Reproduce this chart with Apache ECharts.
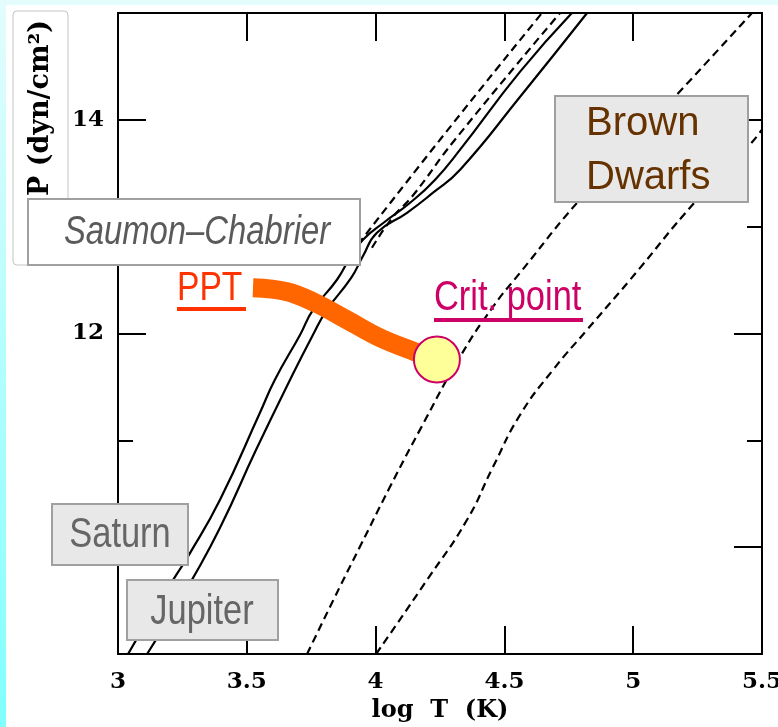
<!DOCTYPE html>
<html><head><meta charset="utf-8">
<script src="https://cdn.jsdelivr.net/npm/echarts@6/dist/echarts.min.js"></script>
<style>html,body{margin:0;padding:0;background:#fff}#c{width:778px;height:727px}</style>
</head><body><div id="c"></div>
<script>
// axis ticks / labels
const xTicks = [3, 3.5, 4, 4.5, 5, 5.5];
const yMajorTicks = [10, 12, 14];
const yMinorTicks = [11, 13];
const yLabels = [10, 12, 14];

// Saturn interior profile (solid)
const saturnT = [3.039,3.124,3.214,3.280,3.396,3.551,3.609,3.707,3.757,3.850,3.901,3.951,4.036,4.134,4.231,4.328,4.561,4.762];
const saturnP = [9.0,9.347,9.694,9.947,10.443,11.258,11.567,11.989,12.222,12.503,12.709,12.878,13.046,13.224,13.440,13.721,14.451,15.0];
// Jupiter interior profile (solid)
const jupiterT = [3.113,3.202,3.287,3.396,3.536,3.668,3.757,3.811,3.905,3.950,4.005,4.122,4.223,4.328,4.561,4.821];
const jupiterP = [9.0,9.347,9.694,10.181,10.911,11.567,11.989,12.222,12.520,12.720,12.943,13.130,13.318,13.533,14.216,15.0];
// upper dashed profiles
const dash1T = [3.901,4.250,4.646];
const dash1P = [12.737,13.814,15.0];
const dash2T = [3.986,4.068,4.141,4.308,4.716];
const dash2P = [12.803,13.093,13.280,13.814,15.0];
// brown dwarf profiles (dashed)
const bd1T = [3.734,3.842,3.939,4.056,4.172,4.328,4.456,4.561,4.793,5.170,5.461];
const bd1P = [9.0,9.535,10.003,10.565,11.098,11.782,12.251,12.569,13.253,14.236,15.0];
const bd2T = [4.002,4.200,4.355,4.456,4.561,4.689,4.821,4.988,5.248,5.446,5.500];
const bd2P = [9.0,9.694,10.256,10.752,11.239,11.660,12.035,12.503,13.253,13.749,13.908];
// PPT line and critical point
const pptT = [3.524,3.656,3.765,3.889,4.017,4.153,4.238];
const pptP = [12.428,12.391,12.288,12.128,11.960,11.829,11.754];
const critT = [4.238];
const critP = [11.757];

const zip = (a, b) => a.map((v, i) => [v, b[i]]);
const chart = echarts.init(document.getElementById('c'), null, {renderer: 'canvas'});

const serif = "'DejaVu Serif', serif";
const axisFont = {fontFamily: serif, fontWeight: 'bold', fontSize: 23, color: '#000'};
const lineStyleAxis = {color: '#000', width: 2};
const sans = "'Liberation Sans', Arial, sans-serif";
const NX = 0.82; // horizontal condensing of label text

function yAx(pos, ticks, len, labels, showLine) {
  return {
    type: 'value', position: pos, min: 9, max: 15, interval: 1,
    axisLine: {show: showLine, lineStyle: lineStyleAxis},
    axisTick: {show: true, inside: true, length: len, lineStyle: {color: '#000', width: 2}, customValues: ticks},
    axisLabel: labels ? Object.assign({show: true, margin: 14, customValues: labels}, axisFont) : {show: false},
    splitLine: {show: false}
  };
}

const lineSeries = (T, P, dashed) => ({
  type: 'line', data: zip(T, P), showSymbol: false, smooth: 0.5,
  lineStyle: {color: '#000', width: 2.2, type: dashed ? [8, 5] : 'solid'},
  z: 2, silent: true
});

const option = {
  animation: false,
  backgroundColor: '#fff',
  grid: {left: 118, right: 16, top: 13, bottom: 73, containLabel: false, outerBoundsMode: 'none'},
  xAxis: [
    {type: 'value', position: 'bottom', min: 3, max: 5.5, interval: 0.5,
     name: 'log  T  (K)', nameLocation: 'middle', nameGap: 40,
     nameTextStyle: {fontFamily: serif, fontWeight: 'bold', fontSize: 24, color: '#000'},
     axisLine: {lineStyle: lineStyleAxis},
     axisTick: {inside: true, length: 28, lineStyle: {color: '#000', width: 2}},
     axisLabel: Object.assign({margin: 17, showMinLabel: true, showMaxLabel: true, customValues: xTicks}, axisFont),
     splitLine: {show: false}},
    {type: 'value', position: 'top', min: 3, max: 5.5, interval: 0.5,
     axisLine: {lineStyle: lineStyleAxis},
     axisTick: {inside: true, length: 28, lineStyle: {color: '#000', width: 2}},
     axisLabel: {show: false}, splitLine: {show: false}}
  ],
  yAxis: [
    yAx('left', yMajorTicks, 28, yLabels, true),
    yAx('left', yMinorTicks, 15, null, false),
    yAx('right', yMajorTicks, 28, null, true),
    yAx('right', yMinorTicks, 15, null, false)
  ],
  series: [
    lineSeries(saturnT, saturnP, false),
    lineSeries(jupiterT, jupiterP, false),
    lineSeries(dash1T, dash1P, true),
    lineSeries(dash2T, dash2P, true),
    lineSeries(bd1T, bd1P, true),
    lineSeries(bd2T, bd2P, true),
    {type: 'line', data: zip(pptT, pptP), showSymbol: false, smooth: 0.4,
     lineStyle: {color: '#ff6600', width: 19, cap: 'butt'}, z: 5, silent: true},
    {type: 'scatter', data: zip(critT, critP), symbol: 'circle', symbolSize: 46,
     itemStyle: {color: '#ffff99', borderColor: '#cc0066', borderWidth: 2, opacity: 1}, z: 6, silent: true}
  ],
  graphic: [
    // background edges
    {type: 'rect', shape: {x: 0, y: 0, width: 778, height: 5}, style: {fill: '#e4fcfc'}, z: 1},
    {type: 'rect', shape: {x: 0, y: 0, width: 6, height: 727},
     style: {fill: new echarts.graphic.LinearGradient(0, 0, 0, 1, [{offset: 0, color: '#e4fcfc'}, {offset: 1, color: '#80ffff'}])}, z: 1},
    // y title box
    {type: 'rect', shape: {x: 13, y: 11, width: 55, height: 254, r: 4}, style: {fill: '#fff', stroke: '#c4c4c4', lineWidth: 1}, z: 50},
    {type: 'text', x: 41, y: 108, rotation: Math.PI / 2,
     style: {text: 'P (dyn/cm²)', fontFamily: serif, fontWeight: 'bold', fontSize: 27, fill: '#000', align: 'center', verticalAlign: 'middle'}, z: 51},
    // Saumon-Chabrier
    {type: 'rect', shape: {x: 28, y: 199, width: 332, height: 66}, style: {fill: '#fff', stroke: '#a0a0a0', lineWidth: 2}, z: 52},
    {type: 'text', x: 197, y: 233, scaleX: NX,
     style: {text: 'Saumon–Chabrier', fontFamily: sans, fontStyle: 'italic', fontSize: 40, fill: '#5a5a5a', align: 'center', verticalAlign: 'middle'}, z: 53},
    // PPT label
    {type: 'text', x: 177, y: 289, scaleX: NX,
     style: {text: 'PPT', fontFamily: sans, fontSize: 41, fill: '#ff3300', align: 'left', verticalAlign: 'middle'}, z: 53},
    {type: 'rect', shape: {x: 177, y: 307, width: 69, height: 4}, style: {fill: '#ff3300'}, z: 53},
    // Crit point label
    {type: 'text', x: 434, y: 298, scaleX: NX,
     style: {text: 'Crit. point', fontFamily: sans, fontSize: 42, fill: '#cc0066', align: 'left', verticalAlign: 'middle'}, z: 53},
    {type: 'rect', shape: {x: 434, y: 318, width: 149, height: 4}, style: {fill: '#cc0066'}, z: 53},
    // Brown Dwarfs
    {type: 'rect', shape: {x: 555, y: 96, width: 193, height: 106}, style: {fill: '#e8e8e8', stroke: '#a0a0a0', lineWidth: 2}, z: 52},
    {type: 'text', x: 586, y: 124, style: {text: 'Brown', fontFamily: sans, fontSize: 40, fill: '#663300', align: 'left', verticalAlign: 'middle'}, z: 53},
    {type: 'text', x: 586, y: 178, style: {text: 'Dwarfs', fontFamily: sans, fontSize: 40, fill: '#663300', align: 'left', verticalAlign: 'middle'}, z: 53},
    // Saturn
    {type: 'rect', shape: {x: 52, y: 504, width: 136, height: 61}, style: {fill: '#e8e8e8', stroke: '#a0a0a0', lineWidth: 2}, z: 52},
    {type: 'text', x: 120, y: 535, scaleX: NX, style: {text: 'Saturn', fontFamily: sans, fontSize: 42, fill: '#666', align: 'center', verticalAlign: 'middle'}, z: 53},
    // Jupiter
    {type: 'rect', shape: {x: 127, y: 580, width: 151, height: 60}, style: {fill: '#e8e8e8', stroke: '#a0a0a0', lineWidth: 2}, z: 52},
    {type: 'text', x: 202, y: 612, scaleX: NX, style: {text: 'Jupiter', fontFamily: sans, fontSize: 42, fill: '#666', align: 'center', verticalAlign: 'middle'}, z: 53}
  ]
};
chart.setOption(option);
</script>
</body></html>
